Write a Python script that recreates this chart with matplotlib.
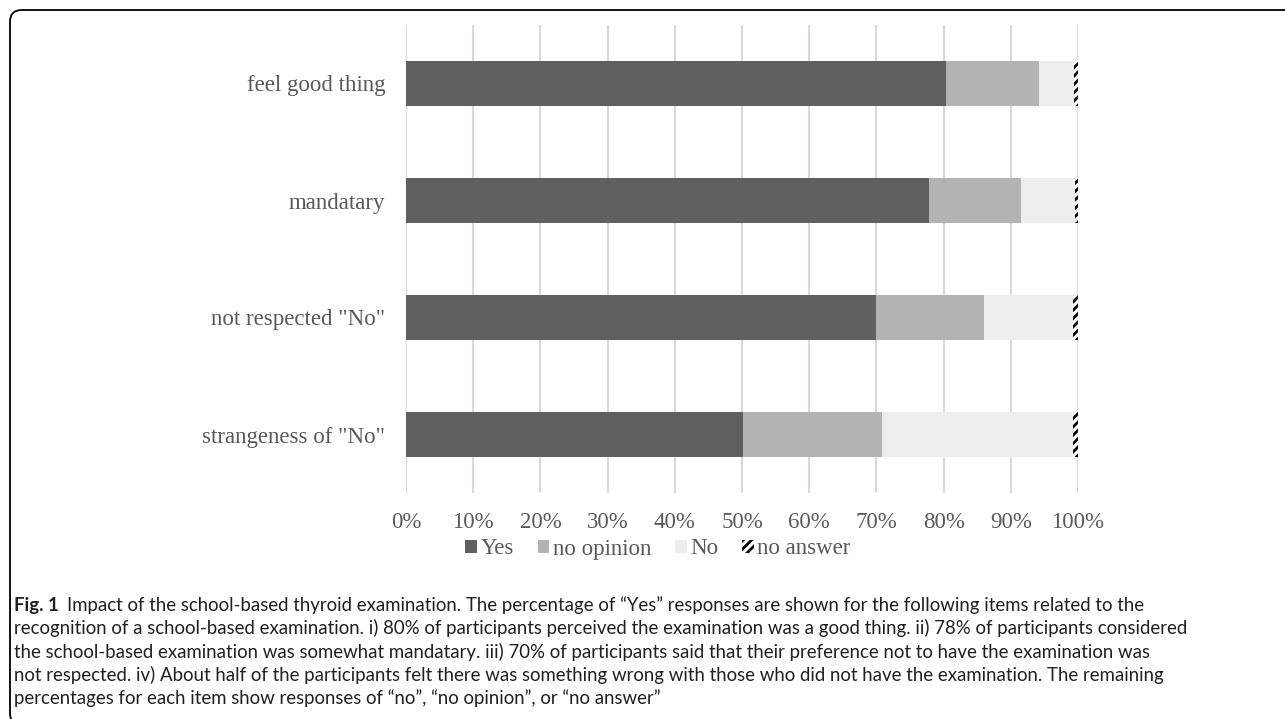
import matplotlib
matplotlib.use("Agg")
import matplotlib.pyplot as plt
from matplotlib.patches import FancyBboxPatch
import numpy as np

# survey items, top to bottom
items = ['feel good thing', 'mandatary', 'not respected "No"', 'strangeness of "No"']

# share of answers in percent
yes = [80.4, 77.8, 69.9, 50.2]
no_opinion = [13.8, 13.7, 16.1, 20.6]
no = [5.2, 8.0, 13.2, 28.4]
no_answer = [0.6, 0.5, 0.8, 0.8]

series_names = ['Yes', 'no opinion', 'No', 'no answer']
ticks = [0, 10, 20, 30, 40, 50, 60, 70, 80, 90, 100]

grey_txt = '#595959'
serif = ['Liberation Serif', 'DejaVu Serif']

plt.rcParams['hatch.linewidth'] = 2.0

fig = plt.figure(figsize=(12.85, 7.19), dpi=100)
ax = fig.add_axes([406 / 1285, 1 - 493 / 719, 672 / 1285, 468 / 719])

y = np.arange(len(items))
h = 0.385
left = np.zeros(len(items))
styles = [dict(color='#606060'), dict(color='#b3b3b3'), dict(color='#ededed'),
          dict(facecolor='white', edgecolor='black', hatch='////', linewidth=0)]
for name, vals, st in zip(series_names, [yes, no_opinion, no, no_answer], styles):
    ax.barh(y, vals, left=left, height=h, label=name, zorder=3, **st)
    left = left + np.array(vals)

ax.set_xlim(0, 100)
ax.set_ylim(len(items) - 0.5, -0.5)
ax.set_yticks(y)
ax.set_yticklabels(items)
ax.set_xticks(ticks)
ax.set_xticklabels([f'{t}%' for t in ticks])
ax.grid(axis='x', color='#d9d9d9', linewidth=1.5, zorder=0)
ax.tick_params(length=0, labelsize=16.5, labelcolor=grey_txt)
ax.tick_params(axis='y', pad=15)
ax.tick_params(axis='x', pad=14)
for lab in ax.get_xticklabels() + ax.get_yticklabels():
    lab.set_family(serif)
for s in ax.spines.values():
    s.set_visible(False)

# legend sits under the tick labels, centred on the chart area
leg = fig.legend(*ax.get_legend_handles_labels(), loc='center',
                 bbox_to_anchor=(658 / 1285, 1 - 549 / 719), ncol=4, frameon=False,
                 prop={'family': serif, 'size': 16.5}, handlelength=0.5, handleheight=0.5,
                 handletextpad=0.15, columnspacing=1.05, labelcolor=grey_txt)

# rounded frame around the figure panel
frame = FancyBboxPatch((10, -6), 1300, 715, boxstyle='round,pad=0,rounding_size=12',
                       transform=None, fill=False, edgecolor='black', linewidth=1.3)
fig.patches.append(frame)

# caption
cap_font = ['Lato', 'DejaVu Sans']
cap_size = 13.4
lines = [
    'Impact of the school-based thyroid examination. The percentage of \u201cYes\u201d responses are shown for the following items related to the',
    'recognition of a school-based examination. i) 80% of participants perceived the examination was a good thing. ii) 78% of participants considered',
    'the school-based examination was somewhat mandatary. iii) 70% of participants said that their preference not to have the examination was',
    'not respected. iv) About half of the participants felt there was something wrong with those who did not have the examination. The remaining',
    'percentages for each item show responses of \u201cno\u201d, \u201cno opinion\u201d, or \u201cno answer\u201d',
]
x0 = 14 / 1285
ys = [605, 628, 652, 675, 698]
fig_lab = fig.text(x0, 1 - ys[0] / 719, 'Fig. 1', family=cap_font, size=cap_size,
                   weight='bold', va='center', ha='left', color='#231f20')
fig.canvas.draw()
bb = fig_lab.get_window_extent()
fig.text((bb.x1 + 8) / 1285, 1 - ys[0] / 719, lines[0], family=cap_font, size=cap_size,
         va='center', ha='left', color='#231f20')
for yy, txt in zip(ys[1:], lines[1:]):
    fig.text(x0, 1 - yy / 719, txt, family=cap_font, size=cap_size,
             va='center', ha='left', color='#231f20')

fig.savefig('out.png', dpi=100)
